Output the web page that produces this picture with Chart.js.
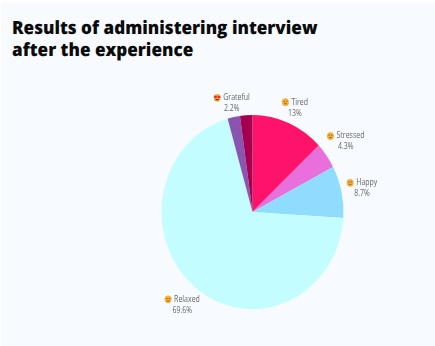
<!DOCTYPE html>
<html>
<head>
<meta charset="utf-8">
<title>Interview results</title>
<script src="https://cdn.jsdelivr.net/npm/chart.js@4"></script>
<style>
  html, body { margin: 0; padding: 0; background: #fff; }
  #panel { position: absolute; left: 1px; top: 3px; width: 434px; height: 343px; background: #f7fbff; }
  h1 {
    position: absolute; left: 12px; top: 18px; margin: 0; width: 410px;
    font: 800 17.1px/20.6px "Open Sans", sans-serif; color: #0b0b0b;
    transform: scaleY(1.066); transform-origin: 0 0;
    text-rendering: geometricPrecision;
  }
  canvas { position: absolute; left: 0; top: 0; }
</style>
</head>
<body>
<div id="panel"></div>
<h1>Results of administering interview<br>after the experience</h1>
<canvas id="pie" width="435" height="346"></canvas>
<script>
// Slices run clockwise from twelve o'clock
const categories = ["Tired", "Stressed", "Happy", "Relaxed", "", "Grateful"];
const shares = [13, 4.3, 8.7, 69.6, 2.2, 2.2];
const shareLabels = ["13%", "4.3%", "8.7%", "69.6%", "", "2.2%"];
const sliceColors = ["#ff1269", "#e970dc", "#90dcff", "#c3fdff", "#8a55b0", "#a3004f"];

const Y_STRETCH = 97 / 91;
const LABEL_RX = 112;
const LABEL_RY = 118;
const TEXT_Y_SCALE = 1.18;
const LINE_GAP = 5.5;

// Hand tweaks so neighbouring labels don't crowd each other
const labelNudges = { Tired: [-2, 4], Stressed: [2, -2], Happy: [0, 1], Relaxed: [0, 1], Grateful: [-13, 9] };

// The pie is drawn slightly taller than wide
const stretchPie = {
    id: "stretchPie",
    beforeDatasetsDraw(chart) {
        const arc = chart.getDatasetMeta(0).data[0];
        const ctx = chart.ctx;
        ctx.save();
        ctx.translate(arc.x, arc.y);
        ctx.scale(1, Y_STRETCH);
        ctx.translate(-arc.x, -arc.y);
    },
    afterDatasetsDraw(chart) {
        chart.ctx.restore();
    }
};

function drawFace(ctx, x, y, name) {
    ctx.fillStyle = "#f4b13c";
    ctx.beginPath();
    ctx.ellipse(x, y, 3.5, 3.9, 0, 0, Math.PI * 2);
    ctx.fill();

    if (name === "Grateful") {
        ctx.fillStyle = "#e0263a";
        ctx.fillRect(x - 3, y - 2, 2.6, 2.2);
        ctx.fillRect(x + 0.4, y - 2, 2.6, 2.2);
        ctx.fillStyle = "#7a2a1a";
        ctx.fillRect(x - 1.6, y + 1.2, 3.2, 1.2);
    } else {
        ctx.fillStyle = "#9a5a20";
        ctx.fillRect(x - 2, y - 1.4, 1.4, 1);
        ctx.fillRect(x + 0.6, y - 1.4, 1.4, 1);
        ctx.fillRect(x - 1.2, y + 1, 2.4, 1);
    }
}

// Slightly condensed text, same proportions as the pie
function drawLabelText(ctx, text, x, y, align) {
    ctx.save();
    ctx.translate(x, y);
    ctx.scale(1, TEXT_Y_SCALE);
    ctx.textAlign = align;
    ctx.fillText(text, 0, 0);
    ctx.restore();
}

// Name with its face icon, and the share underneath, placed outside each slice
const sliceLabels = {
    id: "sliceLabels",
    afterDraw(chart) {
        const ctx = chart.ctx;
        const arcs = chart.getDatasetMeta(0).data;
        ctx.save();
        ctx.font = '7px "Open Sans", sans-serif';
        ctx.textBaseline = "middle";
        arcs.forEach(function(arc, i) {
            if (!categories[i]) return;
            const mid = (arc.startAngle + arc.endAngle) / 2;
            const nudge = labelNudges[categories[i]] || [0, 0];
            const x = arc.x + Math.cos(mid) * LABEL_RX + nudge[0];
            const y = arc.y + Math.sin(mid) * LABEL_RY + nudge[1];

            const nameWidth = ctx.measureText(categories[i]).width;
            const left = x - (nameWidth + 9.5) / 2;
            drawFace(ctx, left + 3.5, y - LINE_GAP, categories[i]);
            ctx.fillStyle = "#666";
            drawLabelText(ctx, categories[i], left + 9.5, y - LINE_GAP, "left");
            drawLabelText(ctx, shareLabels[i], x, y + LINE_GAP, "center");
        });
        ctx.restore();
    }
};

new Chart(document.getElementById("pie"), {
    type: "pie",
    data: {
        labels: categories,
        datasets: [{
            data: shares,
            backgroundColor: sliceColors,
            borderWidth: 0
        }]
    },
    options: {
        responsive: false,
        animation: false,
        layout: { padding: { left: 161.5, right: 91.5, top: 121, bottom: 43 } },
        plugins: {
            legend: { display: false },
            tooltip: { enabled: false }
        }
    },
    plugins: [stretchPie, sliceLabels]
});
</script>
</body>
</html>
